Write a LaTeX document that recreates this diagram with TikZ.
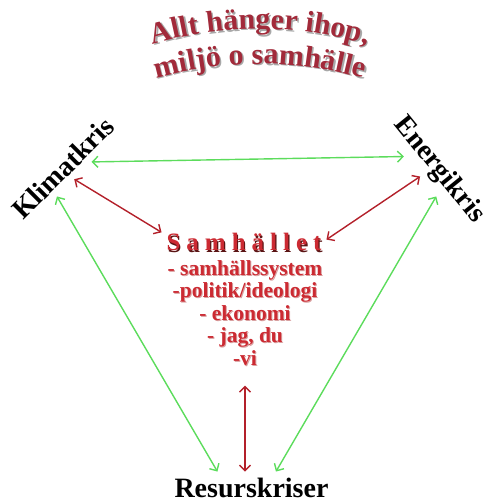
\documentclass[tikz,border=0pt]{standalone}
\usepackage{fontspec}
\setmainfont{Liberation Serif}
\usetikzlibrary{arrows.meta,decorations.text}
\definecolor{ARGreen}{HTML}{5CDC5C}
\definecolor{ARRed}{HTML}{B3202A}
\definecolor{ARTitle}{HTML}{A22A3A}
\definecolor{ARText}{HTML}{CC2A32}
\definecolor{ARShade}{HTML}{A8A8A8}
\definecolor{ARDark}{HTML}{5A1414}
\definecolor{ARPink}{HTML}{D8A0A0}
\newcommand\titlefnt{\fontsize{30}{32}\selectfont\bfseries}
\newcommand\crisisfnt{\fontsize{28}{30}\selectfont\bfseries}
\newcommand\samhfnt{\fontsize{25}{27}\selectfont\bfseries\addfontfeature{LetterSpace=24}}
\newcommand\listfnt{\fontsize{21.5}{22.5}\selectfont\bfseries}

\begin{document}
\begin{tikzpicture}[x=1pt,y=1pt,
  >={Straight Barb[length=5.5pt,width=11pt]},
  link/.style={<->,line width=1.4pt},
  crisis/.style={font=\crisisfnt,inner sep=1pt,outer sep=5pt}]
\path[use as bounding box] (0,0) rectangle (487,501);
% arched title
\path[decorate,decoration={text along path,text align=center,text color=ARShade,
  text={|\titlefnt|Allt hänger ihop,}}] (261.5,90.5) ++(110:380) arc[start angle=110,end angle=70,radius=380];
\path[decorate,decoration={text along path,text align=center,text color=ARTitle,
  text={|\titlefnt|Allt hänger ihop,}}] (260,92) ++(110:380) arc[start angle=110,end angle=70,radius=380];
\path[decorate,decoration={text along path,text align=center,text color=ARShade,
  text={|\titlefnt|miljö o samhälle}}] (261.5,55.5) ++(110:380) arc[start angle=110,end angle=70,radius=380];
\path[decorate,decoration={text along path,text align=center,text color=ARTitle,
  text={|\titlefnt|miljö o samhälle}}] (260,57) ++(110:380) arc[start angle=110,end angle=70,radius=380];
% the three crises
\node[crisis,rotate=45] (klimat) at (63,333) {Klimatkris};
\node[crisis,rotate=-51] (energi) at (439,331) {Energikris};
\node[crisis,anchor=base] (resurs) at (251.5,4) {Resurskriser};
% society in the middle
\node[font=\samhfnt,text=ARDark,inner sep=1pt,anchor=base] (samhshade) at (245.2,248.8) {Samhället};
\node[font=\samhfnt,text=ARText,inner sep=1pt,outer sep=4pt,anchor=base] (samh) at (244,250) {Samhället};
\node[font=\listfnt,text=ARPink,inner sep=0pt,align=center,anchor=north] (listshade) at (246,240) {- samhällssystem\\-politik/ideologi\\- ekonomi\\- jag, du\\-vi};
\node[font=\listfnt,text=ARText,inner sep=0pt,align=center,anchor=north] (list) at (245,241) {- samhällssystem\\-politik/ideologi\\- ekonomi\\- jag, du\\-vi};
% links
\draw[link,ARGreen] (klimat.-33) -- (energi.-150);
\draw[link,ARGreen] (klimat.-147) -- (resurs.155);
\draw[link,ARGreen] (energi.-45) -- (resurs.33);
\draw[link,ARRed] (klimat.south) -- (samh.173);
\draw[link,ARRed] (energi.-110) -- (samh.2);
\draw[link,ARRed,shorten <=20pt] (list.south) -- (list.south |- resurs.north);
\end{tikzpicture}
\end{document}
